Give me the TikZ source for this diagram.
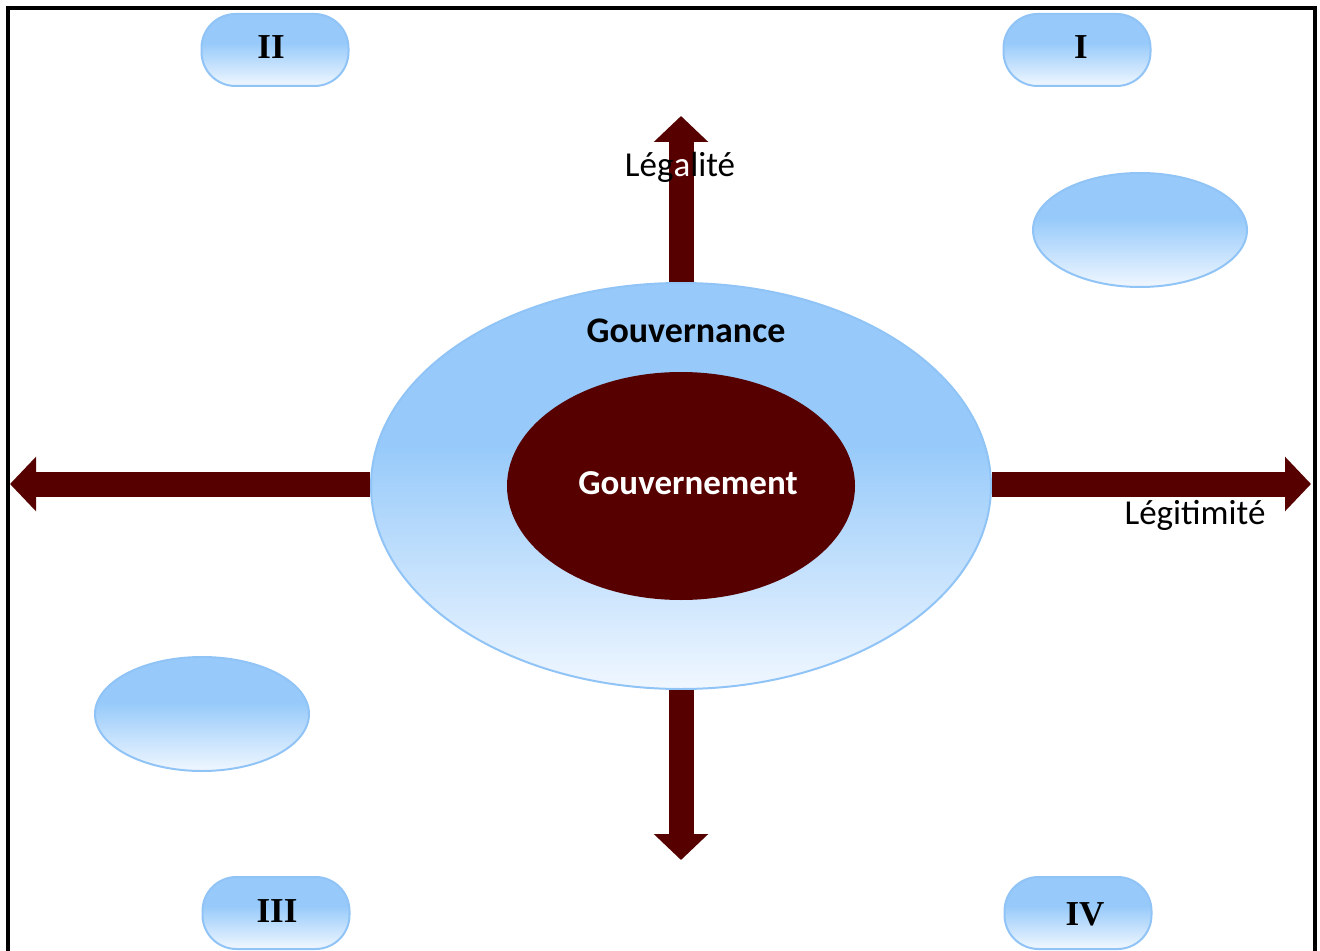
\documentclass[tikz,border=0pt]{standalone}
\usepackage{fontspec}
\setmainfont{Liberation Serif}
\newfontfamily\calfont{Carlito}
\usetikzlibrary{arrows.meta,shapes.geometric}
\definecolor{maroon}{RGB}{86,0,0}
\definecolor{skyA}{RGB}{151,202,250}
\definecolor{skyW}{RGB}{240,247,255}
\definecolor{skyB}{RGB}{145,196,246}
\pgfdeclareverticalshading{skyshade}{100bp}{color(0bp)=(white); color(25bp)=(skyW); color(55bp)=(skyA); color(100bp)=(skyA)}
\tikzset{
  skyfill/.style={shading=skyshade, draw=skyB, line width=1pt},
  pill/.style={skyfill, rectangle, rounded corners=17pt, minimum width=73.5pt, minimum height=36pt, inner sep=0pt},
  blob/.style={skyfill, ellipse, minimum width=107pt, minimum height=57pt, inner sep=0pt},
  roman/.style={font=\fontsize{17.5}{20}\selectfont\bfseries, text=black},
  arr/.style={draw=maroon, line width=12.5pt, -{Triangle[width=26.5pt,length=13pt]}},
  lbl/.style={font=\calfont\fontsize{17.5}{20}\selectfont, text=black, inner sep=0pt},
}
\begin{document}
\begin{tikzpicture}[x=0.5pt,y=-0.5pt]
\useasboundingbox (0,0) rectangle (1320,951);
\draw[line width=2pt] (8,951) -- (8,8) -- (1315,8) -- (1315,951);
% pills
\node[pill] (p2) at (275,50) {};
\node[pill] (p1) at (1077,50) {};
\node[pill] (p3) at (276,913) {};
\node[pill] (p4) at (1078,913) {};
\node[roman] at (271,47) {II};
\node[roman] at (1081,47) {I};
\node[roman] at (277,911) {III};
\node[roman] at (1085,914) {IV};
% blobs
\node[blob] (b1) at (1140,230) {};
\node[blob] (b2) at (202,714) {};
% central ellipses
\node[skyfill, ellipse, minimum width=310pt, minimum height=203pt, inner sep=0pt] (gov) at (681,486) {};
\node[ellipse, fill=maroon, minimum width=174pt, minimum height=114pt, inner sep=0pt] (govt) at (681,486) {};
\node[font=\calfont\bfseries\fontsize{18}{20}\selectfont, text=black] (gnc) at (686,331) {Gouvernance};
\node[font=\calfont\bfseries\fontsize{17.5}{20}\selectfont, text=white] (gnt) at (688,483) {Gouvernement};
% arrows
\coordinate (up) at (681,116);
\coordinate (down) at (681,860);
\coordinate (left) at (10,484);
\coordinate (right) at (1311,484);
\draw[arr] (gov.north) -- (up);
\draw[arr] (gov.south) -- (down);
\draw[arr] (gov.west |- left) -- (left);
\draw[arr] (gov.east |- right) -- (right);
% labels
\node[lbl] (leg) at (680,167) {Lég{\color{white}a}lité};
\node[lbl] (legi) at (1195,515) {Légitimité};
\end{tikzpicture}
\end{document}
